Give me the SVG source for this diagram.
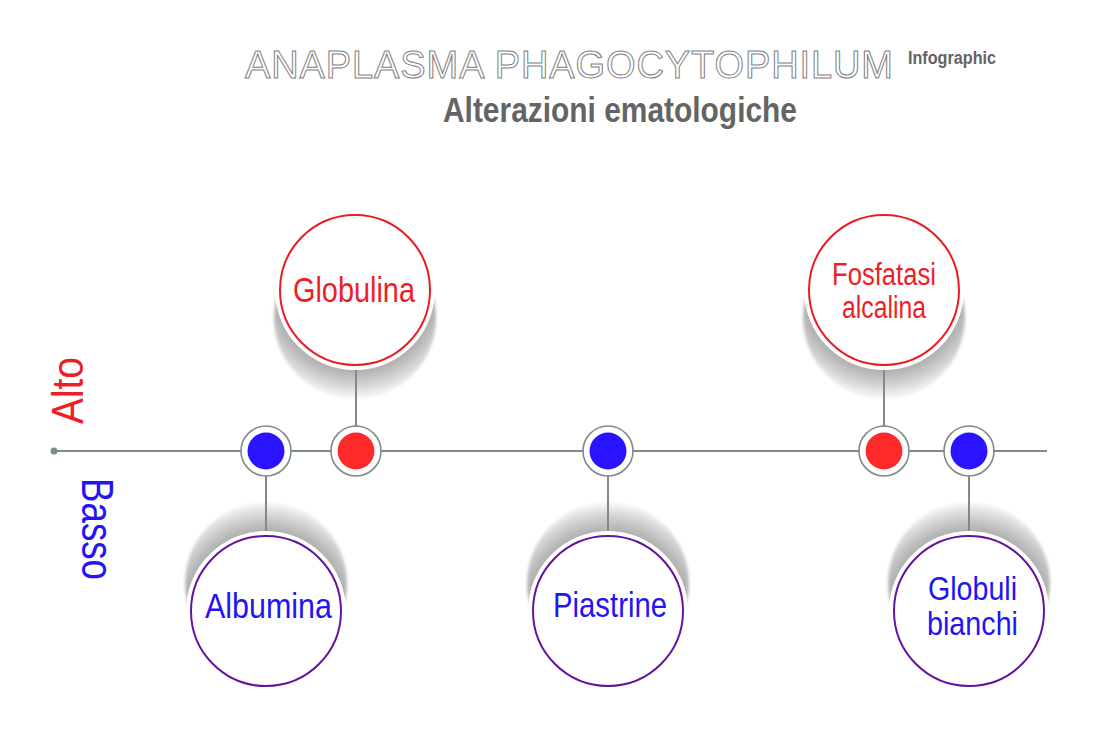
<svg xmlns="http://www.w3.org/2000/svg" width="1100" height="737" viewBox="0 0 1100 737">
<style>
.title{font-family:"Liberation Sans",Arial,sans-serif;font-size:38px;fill:#ffffff;stroke:#808080;stroke-width:1px}
.sub{font-family:"Liberation Sans",Arial,sans-serif;font-weight:bold;fill:#646464}
.lbl{font-family:"Liberation Sans",Arial,sans-serif;text-anchor:start}
.red{fill:#f01e24}
.blue{fill:#2214f5}
.ringR{fill:#ffffff;stroke:#e81c24;stroke-width:2}
.ringB{fill:#ffffff;stroke:#6214a0;stroke-width:2}
.halo{fill:#ffffff}
.conn{stroke:#7f8a8a;stroke-width:2;fill:none}
.dotRing{fill:#ffffff;stroke:#7f8a8a;stroke-width:1.6}
.dotR{fill:#ff2a2a}
.dotB{fill:#2a14ff}
</style>
<defs>
<radialGradient id="shTop" cx="0.5" cy="0.325" r="0.68">
<stop offset="0" stop-color="#a0a0a0"/>
<stop offset="0.74" stop-color="#b2b2b2"/>
<stop offset="0.86" stop-color="#d2d2d2"/>
<stop offset="1" stop-color="#fcfcfc"/>
</radialGradient>
<radialGradient id="shBot" cx="0.5" cy="0.675" r="0.68">
<stop offset="0" stop-color="#a0a0a0"/>
<stop offset="0.74" stop-color="#b2b2b2"/>
<stop offset="0.86" stop-color="#d2d2d2"/>
<stop offset="1" stop-color="#fcfcfc"/>
</radialGradient>
<filter id="soft" x="-20%" y="-20%" width="140%" height="140%">
<feGaussianBlur stdDeviation="1.5"/>
</filter>
</defs>
<rect width="1100" height="737" fill="#ffffff"/>

<g id="header">
<text class="title" x="245" y="78" textLength="648" lengthAdjust="spacing">ANAPLASMA PHAGOCYTOPHILUM</text>
<text class="sub" x="908" y="64" font-size="18" textLength="88" lengthAdjust="spacingAndGlyphs" fill="#555555">Infographic</text>
<text class="sub" x="443" y="122" font-size="35" textLength="354" lengthAdjust="spacingAndGlyphs">Alterazioni ematologiche</text>
</g>

<g id="axis-labels">
<text class="lbl red" transform="translate(83,424) rotate(-90)" font-size="44" textLength="67" lengthAdjust="spacingAndGlyphs">Alto</text>
<text class="lbl blue" transform="translate(82,478) rotate(90)" font-size="44" textLength="102" lengthAdjust="spacingAndGlyphs">Basso</text>
</g>

<g id="node-globulina">
<circle cx="355" cy="318" r="81" fill="url(#shTop)" filter="url(#soft)"/>
<circle class="halo" cx="355" cy="290" r="80"/>
<circle class="ringR" cx="355" cy="290" r="75"/>
<text class="lbl red" x="293" y="302" font-size="35" textLength="122" lengthAdjust="spacingAndGlyphs">Globulina</text>
</g>

<g id="node-fosfatasi">
<circle cx="884" cy="318" r="81" fill="url(#shTop)" filter="url(#soft)"/>
<circle class="halo" cx="884" cy="290" r="80"/>
<circle class="ringR" cx="884" cy="290" r="75"/>
<text class="lbl red" x="832" y="285" font-size="31" textLength="104" lengthAdjust="spacingAndGlyphs">Fosfatasi</text>
<text class="lbl red" x="842" y="318" font-size="31" textLength="84" lengthAdjust="spacingAndGlyphs">alcalina</text>
</g>

<g id="node-albumina">
<circle cx="266" cy="583" r="81" fill="url(#shBot)" filter="url(#soft)"/>
<circle class="halo" cx="266" cy="611" r="80"/>
<circle class="ringB" cx="266" cy="611" r="75"/>
<text class="lbl blue" x="205" y="618" font-size="35" textLength="127" lengthAdjust="spacingAndGlyphs">Albumina</text>
</g>

<g id="node-piastrine">
<circle cx="608" cy="583" r="81" fill="url(#shBot)" filter="url(#soft)"/>
<circle class="halo" cx="608" cy="611" r="80"/>
<circle class="ringB" cx="608" cy="611" r="75"/>
<text class="lbl blue" x="553" y="617" font-size="35" textLength="114" lengthAdjust="spacingAndGlyphs">Piastrine</text>
</g>

<g id="node-globuli">
<circle cx="969" cy="583" r="81" fill="url(#shBot)" filter="url(#soft)"/>
<circle class="halo" cx="969" cy="611" r="80"/>
<circle class="ringB" cx="969" cy="611" r="75"/>
<text class="lbl blue" x="928" y="600" font-size="33" textLength="89" lengthAdjust="spacingAndGlyphs">Globuli</text>
<text class="lbl blue" x="927" y="635" font-size="33" textLength="91" lengthAdjust="spacingAndGlyphs">bianchi</text>
</g>

<g id="connectors">
<line class="conn" x1="54" y1="451" x2="1047" y2="451"/>
<circle cx="54" cy="451" r="3.5" fill="#7f8a8a"/>
<line class="conn" x1="356" y1="370" x2="356" y2="426"/>
<line class="conn" x1="884" y1="370" x2="884" y2="426"/>
<line class="conn" x1="266" y1="476" x2="266" y2="531"/>
<line class="conn" x1="608" y1="476" x2="608" y2="531"/>
<line class="conn" x1="969" y1="476" x2="969" y2="531"/>
</g>

<g id="dot-1">
<circle class="dotRing" cx="266" cy="451" r="25"/>
<circle class="dotB" cx="266" cy="451" r="18.5"/>
</g>
<g id="dot-2">
<circle class="dotRing" cx="356" cy="451" r="25"/>
<circle class="dotR" cx="356" cy="451" r="18.5"/>
</g>
<g id="dot-3">
<circle class="dotRing" cx="608" cy="451" r="25"/>
<circle class="dotB" cx="608" cy="451" r="18.5"/>
</g>
<g id="dot-4">
<circle class="dotRing" cx="884" cy="451" r="25"/>
<circle class="dotR" cx="884" cy="451" r="18.5"/>
</g>
<g id="dot-5">
<circle class="dotRing" cx="969" cy="451" r="25"/>
<circle class="dotB" cx="969" cy="451" r="18.5"/>
</g>
</svg>
